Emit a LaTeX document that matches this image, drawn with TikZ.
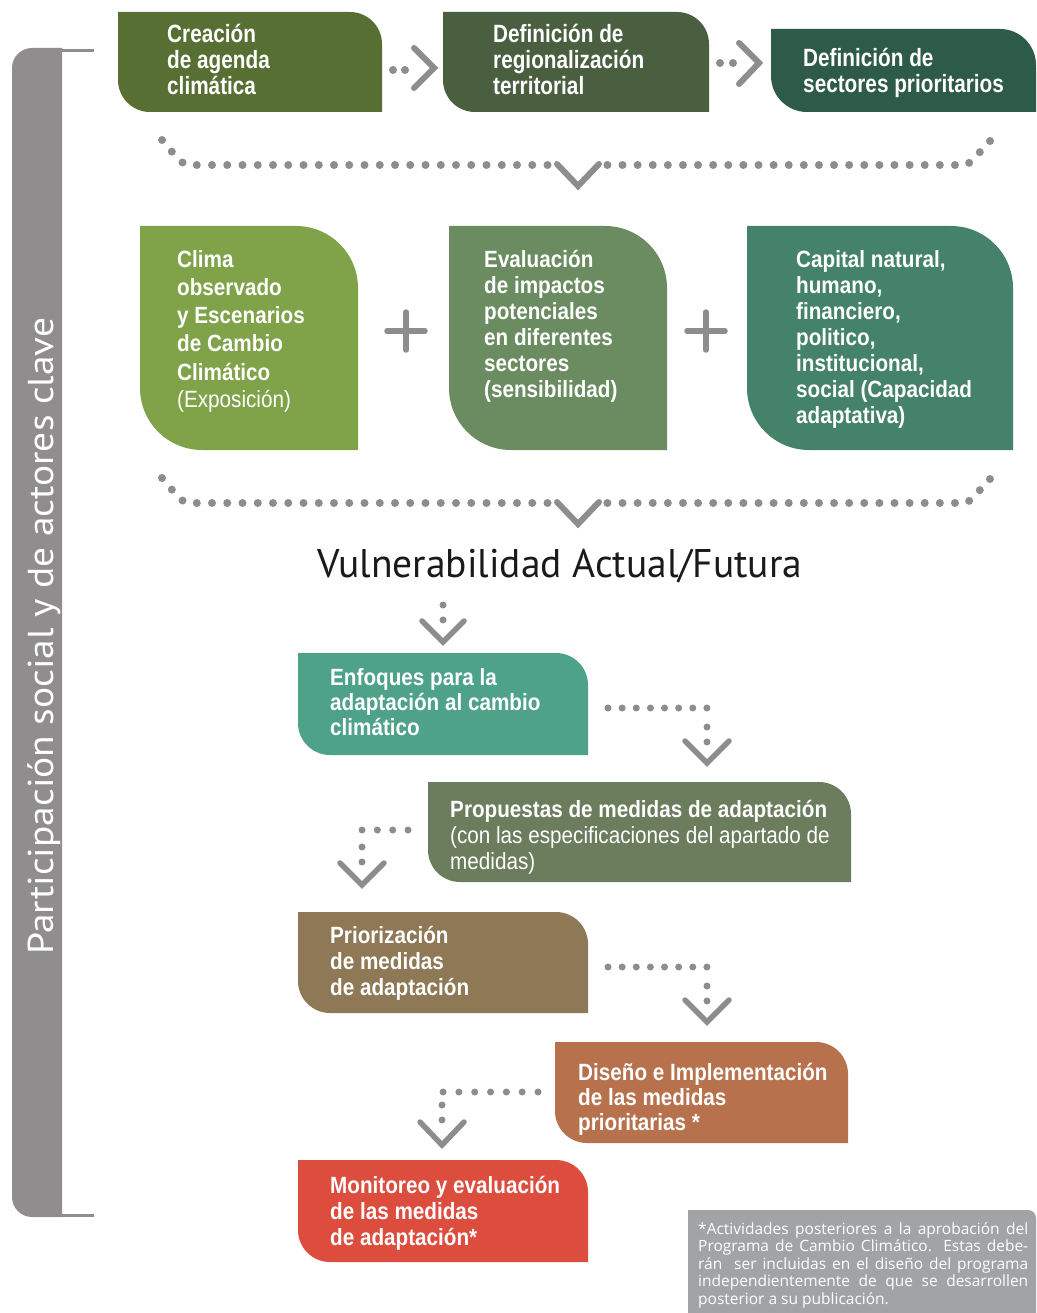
\documentclass[tikz,border=0pt]{standalone}
\usepackage{fontspec}
\usepackage{graphicx}
\setmainfont{PT Sans}
\newfontfamily\condT{Liberation Sans}[FakeStretch=0.83]
\newfontfamily\condM{Liberation Sans}[FakeStretch=0.88]
\newfontfamily\notefont{Open Sans}
\definecolor{cTa}{HTML}{586F34}
\definecolor{cTb}{HTML}{4A5E40}
\definecolor{cTc}{HTML}{2E5A48}
\definecolor{cMa}{HTML}{80A34A}
\definecolor{cMb}{HTML}{6B8C60}
\definecolor{cMc}{HTML}{44836A}
\definecolor{cEn}{HTML}{4EA287}
\definecolor{cPr}{HTML}{6B7D5D}
\definecolor{cPz}{HTML}{8E7856}
\definecolor{cDi}{HTML}{B7724D}
\definecolor{cMo}{HTML}{DC4D3E}
\definecolor{barg}{HTML}{8F8D8E}
\definecolor{dotg}{HTML}{8D8D8D}
\definecolor{noteg}{HTML}{A2A3A5}
\definecolor{vtxt}{HTML}{1A1A1A}
\newcommand\leafbox[6]{%
 \fill[#1] (#2,#3) -- ({#4-#6},#3) .. controls ({#4-0.448*#6},#3) and (#4,{#3+0.448*#6}) .. (#4,{#3+#6}) -- (#4,#5) -- ({#2+#6},#5) .. controls ({#2+0.448*#6},#5) and (#2,{#5-0.448*#6}) .. (#2,{#5-#6}) -- cycle;}
\newcommand\tfnt{\fontsize{25pt}{26pt}\condT\bfseries}
\newcommand\mfnt[1]{\fontsize{23.5pt}{#1}\condM\bfseries}
\begin{document}
\begin{tikzpicture}[x=1pt,y=-1pt,
  btxt/.style={anchor=base west, inner sep=0pt, text=white},
  ldots/.style={draw=dotg, line width=8pt, line cap=round, dash pattern=on 0pt off #1},
  sdots/.style={draw=dotg, line width=7pt, line cap=round, dash pattern=on 0pt off #1},
  chev/.style={draw=dotg, line width=6pt, line cap=round, line join=miter},
  plus/.style={draw=dotg, line width=5.5pt, line cap=round}]
\useasboundingbox (0,0) rectangle (1036,1313);
\fill[white] (0,0) rectangle (1036,1313);

% left bracket bar
\fill[barg] (62,48) -- (32,48) .. controls (21,48) and (12,57) .. (12,68) -- (12,1197) .. controls (12,1208) and (21,1217) .. (32,1217) -- (62,1217) -- cycle;
\draw[barg, line width=3pt] (62,51) -- (94,51);
\draw[barg, line width=3pt] (62,1215) -- (94,1215);
\node[rotate=90, anchor=base, inner sep=0pt, text=white] (side) at (53,636)
  {\resizebox{637pt}{\height}{\fontsize{36pt}{40pt}\selectfont Participación social y de actores clave}};

% top row
\leafbox{cTa}{118}{12}{382}{112}{32}
\leafbox{cTb}{443}{12}{709}{112}{32}
\leafbox{cTc}{771}{29}{1036}{112}{36}
\node[btxt] (t1) at (167,43) {\parbox[t]{220pt}{\raggedright\tfnt Creación\\de agenda\\climática}};
\node[btxt] (t2) at (493,43) {\parbox[t]{220pt}{\raggedright\tfnt Definición de\\regionalización\\territorial}};
\node[btxt] (t3) at (803,67) {\parbox[t]{240pt}{\raggedright\tfnt Definición de\\sectores prioritarios}};

\coordinate (a1s) at (393,70); \coordinate (a1e) at (405,70);
\draw[ldots=11.98pt] (a1s) -- (a1e);
\draw[chev] (414,48) -- (434,68) -- (414,88);
\coordinate (a2s) at (720,63); \coordinate (a2e) at (733,63);
\draw[ldots=12.98pt] (a2s) -- (a2e);
\draw[chev] (739,43) -- (759,63) -- (739,84);

% first big dotted connector
\coordinate (L1a) at (162,140); \coordinate (L1b) at (173,153); \coordinate (L1c) at (185,165); \coordinate (L1d) at (548,165);
\coordinate (R1a) at (990,141); \coordinate (R1b) at (979,153); \coordinate (R1c) at (967,165); \coordinate (R1d) at (607,165);
\draw[ldots=15.25pt] (L1a) -- (L1b) -- (L1c) -- (L1d);
\draw[ldots=15.11pt] (R1a) -- (R1b) -- (R1c) -- (R1d);
\draw[chev] (557,164) -- (578,186) -- (599,164);

% middle row
\leafbox{cMa}{140}{226}{358}{450}{62}
\leafbox{cMb}{449}{226}{667}{450}{62}
\leafbox{cMc}{747}{226}{1013}{450}{62}
\node[btxt] (m1) at (177,268) {\parbox[t]{200pt}{\raggedright\mfnt{28pt}Clima\\observado\\y Escenarios\\de Cambio\\Climático\\{\mdseries(Exposición)}}};
\node[btxt] (m2) at (484,268) {\parbox[t]{200pt}{\raggedright\mfnt{26pt}Evaluación\\de impactos\\potenciales\\en diferentes\\sectores\\(sensibilidad)}};
\node[btxt] (m3) at (796,268) {\parbox[t]{230pt}{\raggedright\mfnt{26pt}Capital natural,\\humano,\\financiero,\\politico,\\institucional,\\social (Capacidad\\adaptativa)}};
\draw[plus] (387,331) -- (425,331);
\draw[plus] (406,312) -- (406,350);
\draw[plus] (687,331) -- (725,331);
\draw[plus] (706,312) -- (706,350);

% second big dotted connector
\coordinate (L2a) at (162,478); \coordinate (L2b) at (173,491); \coordinate (L2c) at (185,503); \coordinate (L2d) at (548,503);
\coordinate (R2a) at (990,479); \coordinate (R2b) at (979,491); \coordinate (R2c) at (967,503); \coordinate (R2d) at (607,503);
\draw[ldots=15.25pt] (L2a) -- (L2b) -- (L2c) -- (L2d);
\draw[ldots=15.11pt] (R2a) -- (R2b) -- (R2c) -- (R2d);
\draw[chev] (557,502) -- (578,524) -- (599,502);

\node[anchor=base, inner sep=0pt, text=vtxt] (vul) at (560,577)
  {\resizebox{484pt}{\height}{\fontsize{40pt}{44pt}\selectfont Vulnerabilidad Actual/Futura}};

% connector vul -> enfoques
\coordinate (c1a) at (443,605); \coordinate (c1b) at (443,620);
\draw[sdots=14.98pt] (c1a) -- (c1b);
\draw[chev, line width=5.5pt] (422,621) -- (443,642) -- (464,621);

% lower boxes
\leafbox{cEn}{298}{653}{588}{755}{32}
\leafbox{cPr}{428}{782}{851}{882}{32}
\leafbox{cPz}{298}{912}{588}{1013}{32}
\leafbox{cDi}{555}{1042}{848}{1143}{32}
\leafbox{cMo}{298}{1160}{588}{1262}{32}
\node[btxt] (en) at (330,685) {\parbox[t]{260pt}{\raggedright\mfnt{25pt}Enfoques para la\\adaptación al cambio\\climático}};
\node[btxt] (pr) at (450,817) {\parbox[t]{400pt}{\raggedright\mfnt{26pt}Propuestas de medidas de adaptación\\{\mdseries(con las especificaciones del apartado de\\medidas)}}};
\node[btxt] (pz) at (330,943) {\parbox[t]{260pt}{\raggedright\mfnt{26pt}Priorización\\de medidas\\de adaptación}};
\node[btxt] (di) at (578,1080) {\parbox[t]{270pt}{\raggedright\mfnt{25pt}Diseño e Implementación\\de las medidas\\prioritarias *}};
\node[btxt] (mo) at (330,1193) {\parbox[t]{260pt}{\raggedright\mfnt{26pt}Monitoreo y evaluación\\de las medidas\\de adaptación*}};

% enfoques -> propuestas
\coordinate (c2a) at (608,708); \coordinate (c2b) at (707,708);
\coordinate (c2c) at (707,727); \coordinate (c2d) at (707,742);
\draw[sdots=14.13pt] (c2a) -- (c2b);
\draw[sdots=14.98pt] (c2c) -- (c2d);
\draw[chev, line width=5.5pt] (685,741) -- (707,763) -- (729,741);

% propuestas -> priorizacion
\coordinate (c3a) at (408,830); \coordinate (c3b) at (362,830);
\coordinate (c3c) at (362,847); \coordinate (c3d) at (362,862);
\draw[sdots=15.32pt] (c3a) -- (c3b);
\draw[sdots=14.98pt] (c3c) -- (c3d);
\draw[chev, line width=5.5pt] (340,863) -- (362,885) -- (384,863);

% priorizacion -> diseno
\coordinate (c4a) at (608,967); \coordinate (c4b) at (707,967);
\coordinate (c4c) at (707,986); \coordinate (c4d) at (707,1001);
\draw[sdots=14.13pt] (c4a) -- (c4b);
\draw[sdots=14.98pt] (c4c) -- (c4d);
\draw[chev, line width=5.5pt] (685,1000) -- (707,1022) -- (729,1000);

% diseno -> monitoreo
\coordinate (c5a) at (538,1092); \coordinate (c5b) at (443,1092);
\coordinate (c5c) at (442,1105); \coordinate (c5d) at (442,1120);
\draw[sdots=15.82pt] (c5a) -- (c5b);
\draw[sdots=14.98pt] (c5c) -- (c5d);
\draw[chev, line width=5.5pt] (420,1122) -- (442,1145) -- (464,1122);

% footnote
\fill[noteg] (688,1210) -- (1028,1210) .. controls (1032.4,1210) and (1036,1213.6) .. (1036,1218) -- (1036,1313) -- (688,1313) -- cycle;
\node[btxt] (note) at (698,1234) {\parbox[t]{334pt}{\notefont\fontsize{15.5pt}{17.5pt}\selectfont
\makebox[330pt][s]{*Actividades posteriores a la aprobación del}\\
\makebox[330pt][s]{Programa de Cambio Climático. Estas debe-}\\
\makebox[330pt][s]{rán\ \ ser incluidas en el diseño del programa}\\
\makebox[330pt][s]{independientemente de que se desarrollen}\\
posterior a su publicación.}};
\end{tikzpicture}
\end{document}
